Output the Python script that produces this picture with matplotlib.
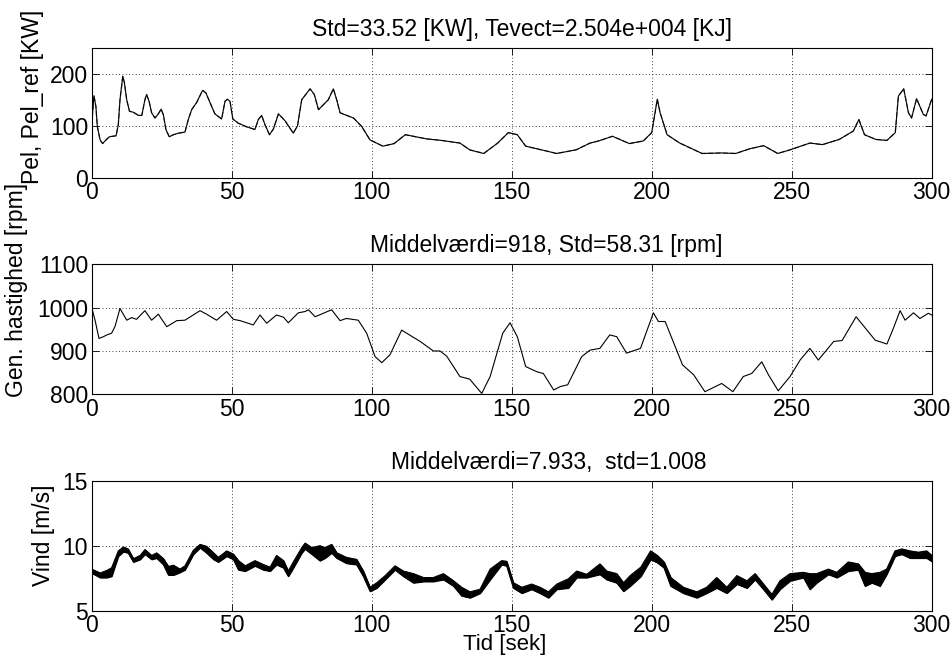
import matplotlib
matplotlib.use("Agg")
import matplotlib.pyplot as plt

plt.rcParams['font.family'] = ['Liberation Sans', 'DejaVu Sans']

# ---- data ----
t_pel = [0, 0.8, 1.5, 2.0, 3.0, 3.9, 5.1, 6.3, 8.7, 9.5, 10.1, 11.1, 11.7, 12.5, 13.5, 14.9, 16.7, 17.9,
         19.0, 19.6, 20.5, 21.4, 22.6, 23.8, 24.8, 25.6, 26.5, 27.7, 29.2, 31.0, 33.3, 34.5, 35.7, 37.5,
         39.6, 40.8, 42.3, 44.0, 46.4, 47.6, 48.5, 49.4, 50.4, 52.4, 55.4, 58.3, 59.5, 60.7, 61.9, 63.5,
         64.9, 66.7, 69.0, 72.0, 73.5, 75.0, 78.0, 79.5, 81.0, 84.5, 86.3, 87.5, 88.7, 93.5, 96.4, 99.4,
         104.0, 108.0, 112.0, 119.6, 125.0, 131.5, 135.0, 140.0, 145.0, 148.8, 152.0,
         155.0, 163.0, 166.0, 173.0, 178.0, 181.0, 186.0, 192.0, 197.0, 200.0, 202.0, 203.0, 205.5, 210.0,
         218.0, 225.0, 230.0, 235.0, 240.0, 245.0, 249.4, 256.5, 261.0, 267.0, 272.0, 274.0, 276.0, 280.0,
         284.0, 287.0, 288.1, 290.0, 291.7, 292.8, 294.6, 297.0, 298.0, 300.0]
pel = [102, 158, 137, 99, 73, 66, 73, 79, 81, 102, 150, 195, 182, 150, 128, 126, 120, 120,
       150, 160, 147, 125, 115, 123, 132, 121, 93, 79, 83, 86, 88, 112, 131, 145,
       168, 163, 144, 123, 113, 147, 151, 147, 113, 105, 98, 93, 112, 120, 102, 83,
       94, 123, 110, 86, 100, 150, 171, 160, 131, 150, 171, 150, 125, 115, 99, 73,
       61, 66, 83, 75, 72, 67, 54, 47, 67, 87, 83,
       61, 51, 47, 54, 67, 71, 80, 66, 71, 87, 151, 125, 83, 67,
       47, 48, 47, 56, 62, 47, 54, 67, 64, 74, 90, 112, 83, 74,
       72, 87, 157, 171, 125, 115, 152, 122, 119, 151]
pel_ref = pel

t_gen = [0, 1.2, 2.6, 4.2, 5.4, 7.1, 8.3, 10.1, 12.5, 14.3, 16.0, 19.0, 21.4, 23.8, 26.8, 30.4, 33.3,
         38.7, 41.0, 44.6, 48.2, 50.6, 53.0, 57.7, 60.1, 62.5, 66.0, 68.5, 70.2, 73.8, 76.2, 77.4, 79.8,
         82.7, 85.7, 88.7, 91.0, 95.2, 98.2, 101.2, 103.6, 106.5, 110.7, 117.3, 122.0, 124.4, 126.8,
         131.5, 135.0, 139.3, 142.3, 146.8, 149.4, 152.0, 155.0, 159.0, 161.3, 165.0, 167.4, 170.0, 175.0,
         178.0, 181.5, 185.0, 187.5, 191.0, 196.0, 200.6, 202.4, 204.8, 211.0, 215.0, 219.0, 225.0, 229.0,
         232.7, 235.7, 239.3, 241.7, 245.2, 249.4, 253.0, 256.5, 259.5, 265.0, 268.0, 273.0, 279.8, 284.0,
         286.3, 288.7, 290.5, 293.5, 295.8, 298.8, 300.0]
gen = [1000, 971, 929, 933, 937, 941, 956, 998, 971, 977, 973, 993, 971, 985, 956, 970, 971,
       993, 985, 971, 991, 973, 970, 960, 983, 964, 983, 978, 965, 988, 991, 995, 979,
       987, 995, 970, 975, 971, 941, 887, 873, 891, 948, 922, 900, 900, 888,
       841, 835, 802, 841, 941, 965, 933, 864, 852, 848, 810, 818, 822, 887,
       902, 906, 937, 933, 895, 906, 988, 968, 968, 868, 845, 806, 825, 806,
       841, 848, 875, 845, 808, 841, 879, 906, 879, 922, 924, 979, 925, 916,
       952, 993, 971, 988, 975, 987, 983]

t_wind = [0, 3.0, 5.4, 7.1, 9.5, 11.3, 13.0, 14.9, 17.3, 19.0, 21.4, 23.2, 25.6, 27.4, 29.2, 31.5, 33.3,
          36.3, 38.7, 41.0, 43.5, 45.2, 48.2, 50.6, 52.4, 54.8, 58.3, 61.3, 63.7, 66.0, 68.5, 70.2, 72.0,
          75.0, 76.2, 78.6, 81.5, 83.3, 85.7, 87.5, 91.0, 94.6, 97.0, 99.4, 101.8, 104.8, 108.3, 111.3,
          114.9, 118.5, 122.0, 125.6, 129.2, 132.1, 135.1, 138.7, 142.3, 146.4, 148.2, 150.6, 153.6, 157.1,
          160.1, 163.1, 166.1, 170.2, 173.2, 176.8, 181.5, 183.9, 187.5, 189.9, 192.3, 196.1, 199.6, 202.0,
          204.4, 206.8, 211.3, 216.1, 219.6, 223.2, 226.8, 230.4, 234.0, 236.9, 239.9, 242.9, 245.8, 249.4,
          254.2, 256.5, 258.9, 263.1, 266.1, 270.2, 273.8, 276.2, 278.6, 281.5, 283.9, 286.9, 289.3, 292.3,
          295.2, 298.2, 300.0]
wind_hi = [8.2, 7.9, 8.1, 8.3, 9.6, 9.9, 9.75, 9.0, 9.25, 9.7, 9.25, 9.45, 9.0, 8.4, 8.5, 8.2, 8.45,
           9.65, 10.1, 9.95, 9.45, 9.1, 9.6, 9.35, 8.85, 8.45, 8.85, 8.55, 8.35, 9.25, 8.85, 8.05, 8.75,
           9.85, 10.2, 9.85, 10.0, 9.85, 10.1, 9.45, 9.1, 8.95, 8.05, 6.8, 7.15, 7.7, 8.45, 8.05,
           7.85, 7.55, 7.55, 7.85, 7.3, 6.8, 6.45, 6.65, 8.2, 8.85, 8.8, 7.15, 6.8, 7.05,
           6.8, 6.45, 7.05, 7.45, 8.05, 7.8, 8.6, 8.05, 7.85, 7.15, 7.7, 8.35, 9.6, 9.25,
           8.75, 7.55, 6.8, 6.45, 6.8, 7.55, 6.8, 7.7, 7.3, 7.85, 7.05, 6.25, 7.3, 7.85,
           7.95, 7.85, 7.85, 8.2, 7.95, 8.75, 8.6, 7.95, 7.85, 7.95, 8.2, 9.6, 9.75, 9.6,
           9.5, 9.6, 9.25]
wind_lo = [7.9, 7.55, 7.55, 7.65, 9.2, 9.55, 9.45, 8.75, 8.95, 9.35, 8.95, 9.05, 8.55, 7.75, 7.75, 7.95, 8.15,
           9.35, 9.85, 9.45, 8.95, 8.75, 9.2, 8.95, 8.15, 8.05, 8.45, 8.15, 8.05, 8.55, 8.3, 7.65, 8.3,
           9.45, 9.75, 9.35, 8.85, 9.05, 9.45, 9.05, 8.65, 8.55, 7.65, 6.5, 6.75, 7.4, 8.15, 7.65,
           7.15, 7.25, 7.25, 7.4, 6.9, 6.15, 6.0, 6.35, 7.4, 8.55, 8.45, 6.75, 6.35, 6.65,
           6.35, 6.0, 6.65, 6.75, 7.55, 7.55, 7.8, 7.4, 7.15, 6.5, 6.9, 7.65, 8.95, 8.7,
           8.3, 6.9, 6.35, 6.0, 6.35, 6.75, 6.35, 7.05, 6.75, 7.4, 6.65, 5.85, 6.65, 7.3,
           7.55, 6.65, 7.15, 7.8, 7.55, 8.05, 8.15, 6.9, 7.15, 6.9, 7.8, 9.2, 9.35, 9.05,
           9.05, 9.05, 8.8]

title1 = "Std=33.52 [KW], Tevect=2.504e+004 [KJ]"
title2 = "Middelværdi=918, Std=58.31 [rpm]"
title3 = "Middelværdi=7.933,  std=1.008"

# ---- figure ----
fig = plt.figure(figsize=(9.53, 6.55), dpi=100)
W, H = 953.0, 655.0
left = 91.7 / W
width = 840.0 / W
ax1 = fig.add_axes([left, (H - 178.0) / H, width, 130.4 / H])
ax2 = fig.add_axes([left, (H - 394.3) / H, width, 130.0 / H])
ax3 = fig.add_axes([left, (H - 610.7) / H, width, 130.0 / H])

FS = 16.5

def style(ax, ylim, yticks):
    ax.set_xlim(0, 300)
    ax.set_ylim(*ylim)
    ax.set_xticks([0, 50, 100, 150, 200, 250, 300])
    ax.set_yticks(yticks)
    ax.grid(True, color='black', linestyle=(0, (1, 3)), linewidth=0.6)
    ax.tick_params(direction='in', length=5, width=0.6, top=True, right=True,
                   labelsize=FS, pad=2.5)
    for s in ax.spines.values():
        s.set_linewidth(0.8)

ax1.plot(t_pel, pel_ref, color='0.35', linewidth=0.9, linestyle=(0, (4, 2)))
ax1.plot(t_pel, pel, color='black', linewidth=0.8)
style(ax1, (0, 250), [0, 100, 200])
ax1.set_title(title1, fontsize=FS, pad=8.5, x=0.512)
ax1.set_ylabel("Pel, Pel_ref [KW]", fontsize=FS, va='center')
ax1.yaxis.set_label_coords(-0.071, 0.625)

ax2.plot(t_gen, gen, color='black', linewidth=0.8)
style(ax2, (800, 1100), [800, 900, 1000, 1100])
ax2.set_title(title2, fontsize=FS, pad=8.5, x=0.541)
ax2.set_ylabel("Gen. hastighed [rpm]", fontsize=FS, va='center')
ax2.yaxis.set_label_coords(-0.089, 0.80)

ax3.fill_between(t_wind, wind_lo, wind_hi, color='black', linewidth=0.8)
ax3.plot(t_wind, wind_hi, color='black', linewidth=0.8)
ax3.plot(t_wind, wind_lo, color='black', linewidth=0.8)
style(ax3, (5, 15), [5, 10, 15])
ax3.set_title(title3, fontsize=FS, pad=8.5, x=0.544)
ax3.set_ylabel("Vind [m/s]", fontsize=FS, va='center')
ax3.yaxis.set_label_coords(-0.057, 0.58)
ax3.set_xlabel("Tid [sek]", fontsize=16, va='bottom')
ax3.xaxis.set_label_coords(0.492, -0.338)

fig.savefig("out.png", dpi=100)
